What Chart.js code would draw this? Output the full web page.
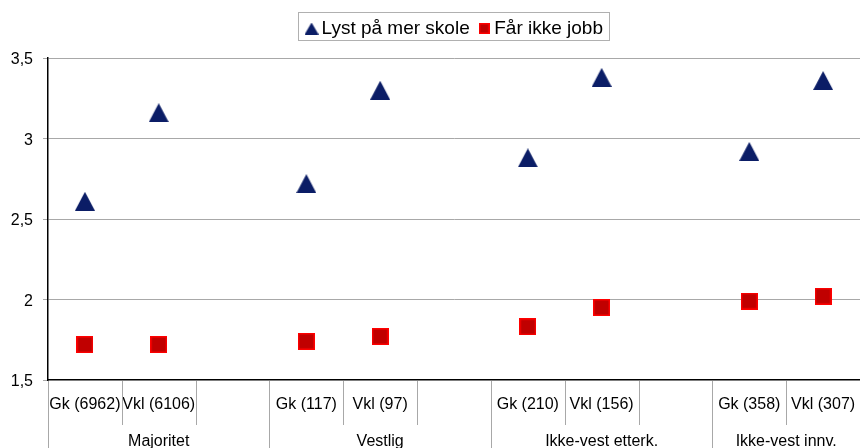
<!DOCTYPE html>
<html lang="no">
<head>
    <meta charset="UTF-8">
    <title>Lyst på mer skole / Får ikke jobb</title>
    <script src="https://cdn.jsdelivr.net/npm/chart.js"></script>
    <style type="text/css">
        html, body{
            margin: 0;
            padding: 0;
            background: #fff;
        }
        .grafica{
            width: 860px;
            height: 448px;
        }
    </style>
</head>
<body>
    <div class="grafica">
        <canvas id="myChart"></canvas>
    </div>
    <script>
        // kategorier (tom plass etter hver gruppe)
        const subLabels = ['Gk (6962)', 'Vkl (6106)', '', 'Gk (117)', 'Vkl (97)', '', 'Gk (210)', 'Vkl (156)', '', 'Gk (358)', 'Vkl (307)'];
        const groupNames = ['Majoritet', 'Vestlig', 'Ikke-vest etterk.', 'Ikke-vest innv.'];
        const groupSizes = [3, 3, 3, 2];
        // verdier lest av bildet
        const lystSkole = [2.61, 3.16, null, 2.72, 3.30, null, 2.88, 3.38, null, 2.92, 3.36];
        const faarIkkeJobb = [1.72, 1.72, null, 1.74, 1.77, null, 1.83, 1.95, null, 1.99, 2.02];
        const yTicks = [1.5, 2, 2.5, 3, 3.5];

        const FONT = '"Liberation Sans", Arial, sans-serif';
        const GRID = '#a8a8a8';

        function triangle(w, h, fill) {
            const c = document.createElement('canvas');
            c.width = w; c.height = h;
            const g = c.getContext('2d');
            g.beginPath();
            g.moveTo(w / 2, 0);
            g.lineTo(w, h);
            g.lineTo(0, h);
            g.closePath();
            g.fillStyle = fill;
            g.fill();
            return c;
        }
        function square(s, fill, stroke) {
            const c = document.createElement('canvas');
            c.width = s; c.height = s;
            const g = c.getContext('2d');
            g.fillStyle = stroke;
            g.fillRect(0, 0, s, s);
            g.fillStyle = fill;
            g.fillRect(1.5, 1.5, s - 3, s - 3);
            return c;
        }
        const triBig = triangle(20, 19, '#0b1d66');
        const triSmall = triangle(14, 12, '#0b1d66');
        const sqBig = square(17, '#c00000', '#ff0000');
        const sqSmall = square(11, '#c00000', '#ff0000');

        // gruppeetiketter og skillelinjer under x-aksen
        const groupAxis = {
            id: 'groupAxis',
            afterInit(chart) {
                const lg = chart.legend;
                const fit = lg.fit;
                lg.fit = function () { fit.call(this); this.height = 58; };
            },
            afterLayout(chart) {
                chart.legend.left += 27;
                chart.legend.right += 27;
                chart.legend.top += 5;
                chart.legend.bottom += 5;
            },
            afterDraw(chart) {
                const ctx = chart.ctx;
                const x = chart.scales.x;
                const bottom = chart.chartArea.bottom;
                ctx.save();
                ctx.strokeStyle = GRID;
                ctx.lineWidth = 1;
                let start = 0;
                const bounds = [];
                groupSizes.forEach(function (n) { bounds.push(start); start += n; });
                for (let i = 0; i < subLabels.length; i++) {
                    const px = Math.round(x.getPixelForValue(i - 0.5)) + 0.5;
                    const isGroup = bounds.indexOf(i) >= 0;
                    ctx.beginPath();
                    ctx.moveTo(px, bottom + 1);
                    ctx.lineTo(px, isGroup ? chart.height : bottom + 45);
                    ctx.stroke();
                }
                ctx.fillStyle = '#000';
                ctx.font = '16px ' + FONT;
                ctx.textAlign = 'center';
                ctx.textBaseline = 'alphabetic';
                groupNames.forEach(function (name, k) {
                    const mid = bounds[k] + (groupSizes[k] - 1) / 2;
                    ctx.fillText(name, x.getPixelForValue(mid), 446);
                });
                // ramme rundt forklaringen
                const boxes = chart.legend.legendHitBoxes;
                if (boxes && boxes.length) {
                    const l = boxes[0].left - 13;
                    const r = boxes[boxes.length - 1].left + boxes[boxes.length - 1].width + 6;
                    ctx.strokeStyle = '#b0b0b0';
                    ctx.strokeRect(Math.round(l) + 0.5, 12.5, Math.round(r - l), 28);
                }
                ctx.restore();
            }
        };

        const data = {
            labels: subLabels,
            datasets: [{
                label: 'Lyst på mer skole',
                data: lystSkole,
                showLine: false,
                pointStyle: triBig,
                pointRadius: 9,
                backgroundColor: '#0b1d66',
                borderColor: '#0b1d66'
            },
            {
                label: 'Får ikke jobb',
                data: faarIkkeJobb,
                showLine: false,
                pointStyle: sqBig,
                pointRadius: 9,
                backgroundColor: '#c00000',
                borderColor: '#ff0000'
            }]
        };

        const config = {
            type: 'line',
            data: data,
            plugins: [groupAxis],
            options: {
                responsive: false,
                animation: false,
                layout: { padding: 0, autoPadding: false },
                plugins: {
                    tooltip: { enabled: false },
                    legend: {
                        position: 'top',
                        labels: {
                            usePointStyle: true,
                            boxWidth: 1,
                            boxHeight: 12,
                            padding: 14,
                            color: '#000',
                            font: { family: FONT, size: 19 },
                            generateLabels: function (chart) {
                                const items = Chart.defaults.plugins.legend.labels.generateLabels(chart);
                                items[0].pointStyle = triSmall;
                                items[1].pointStyle = sqSmall;
                                return items;
                            }
                        }
                    }
                },
                scales: {
                    x: {
                        offset: true,
                        grid: { display: false, drawTicks: false },
                        border: { display: true, color: '#000', width: 1.5 },
                        ticks: {
                            autoSkip: false,
                            maxRotation: 0,
                            padding: 15,
                            color: '#000',
                            font: { family: FONT, size: 16 }
                        },
                        afterFit: function (scale) {
                            scale.height = 68;
                            scale.paddingLeft = 0;
                            scale.paddingRight = 0;
                        }
                    },
                    y: {
                        min: 1.5,
                        max: 3.5,
                        afterBuildTicks: function (scale) {
                            scale.ticks = yTicks.map(function (v) { return { value: v }; });
                        },
                        grid: {
                            color: function (c) { return c.tick && c.tick.value === 1.5 ? 'rgba(0,0,0,0)' : GRID; },
                            tickColor: GRID,
                            tickLength: 5,
                            lineWidth: 1
                        },
                        border: { color: '#000', width: 1.5 },
                        ticks: {
                            padding: 10,
                            labelOffset: 2,
                            color: '#000',
                            font: { family: FONT, size: 16 },
                            callback: function (v) { return String(v).replace('.', ','); }
                        },
                        afterFit: function (scale) {
                            scale.width = 48;
                        }
                    }
                }
            }
        };

        const canvas = document.getElementById('myChart');
        canvas.width = 860;
        canvas.height = 448;
        const myChart = new Chart(canvas, config);
    </script>
</body>
</html>
